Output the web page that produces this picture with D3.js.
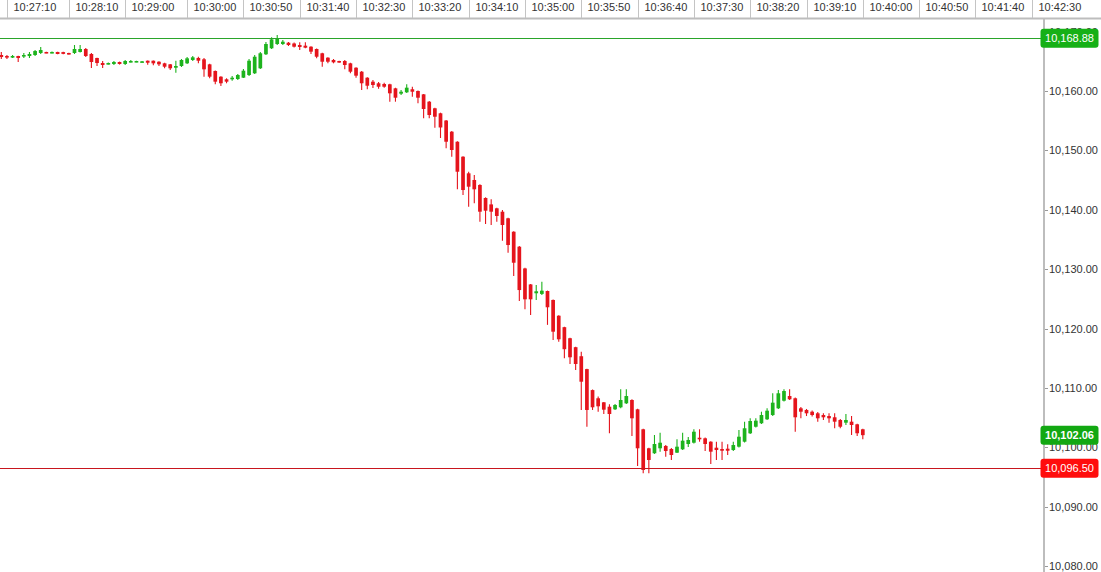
<!DOCTYPE html>
<html><head><meta charset="utf-8">
<script src="https://cdn.jsdelivr.net/npm/d3@7"></script>
<style>
body{margin:0;background:#fff;overflow:hidden}
text{font-family:"Liberation Sans",Arial,sans-serif}
</style>
</head><body><svg id="c" width="1101" height="572"></svg>
<script>
const opens = [10166.06,10165.89,10165.72,10165.89,10165.89,10165.89,10166.06,10166.40,10166.57,10166.40,10166.57,10166.55,10166.40,10166.40,10166.57,10167.07,10166.23,10165.56,10164.71,10164.55,10164.55,10164.88,10164.55,10164.88,10164.88,10164.88,10165.10,10165.10,10164.93,10164.66,10164.49,10163.92,10164.21,10164.66,10165.22,10165.56,10165.34,10164.49,10163.37,10162.41,10161.97,10161.97,10162.02,10162.24,10162.69,10162.98,10163.82,10166.18,10167.19,10167.91,10167.91,10168.13,10168.00,10167.74,10167.63,10167.46,10167.07,10166.35,10165.61,10165.22,10165.05,10165.05,10164.66,10163.92,10163.25,10162.24,10161.57,10161.30,10161.18,10161.13,10160.45,10159.55,10159.78,10160.29,10160.00,10159.44,10158.20,10157.09,10156.25,10155.03,10153.15,10151.46,10148.94,10146.14,10145.02,10144.18,10141.99,10140.91,10140.25,10139.68,10138.57,10136.31,10133.79,10130.13,10127.44,10125.95,10125.84,10126.33,10124.82,10122.17,10120.24,10118.38,10116.87,10115.35,10113.18,10109.65,10108.27,10107.59,10106.85,10106.41,10106.75,10107.42,10107.98,10106.41,10103.05,10099.85,10099.01,10099.85,10100.24,10099.73,10099.11,10099.68,10100.57,10100.79,10101.63,10101.53,10100.96,10099.95,10099.73,10099.78,10099.56,10100.12,10100.96,10102.37,10103.48,10104.06,10104.73,10105.45,10106.58,10107.86,10108.65,10108.27,10106.58,10106.30,10106.01,10105.74,10105.45,10105.28,10105.07,10104.61,10104.16,10104.33,10103.89,10103.05];
const highs = [10166.57,10166.06,10166.06,10165.95,10166.40,10166.57,10166.90,10167.41,10166.60,10166.65,10166.60,10166.60,10166.45,10167.74,10167.74,10167.24,10166.40,10165.60,10165.05,10164.80,10165.05,10164.95,10165.22,10165.22,10165.10,10165.05,10165.15,10165.15,10165.00,10164.75,10164.55,10165.10,10165.39,10165.72,10165.89,10165.77,10165.56,10164.60,10163.45,10162.50,10162.14,10162.53,10162.86,10163.70,10165.39,10166.06,10166.57,10168.25,10169.04,10169.43,10168.59,10168.25,10168.17,10168.20,10168.20,10167.55,10167.15,10166.45,10165.70,10165.39,10165.10,10165.22,10164.75,10164.00,10163.35,10162.30,10161.85,10161.52,10161.40,10161.20,10160.55,10160.17,10161.13,10160.72,10160.10,10159.50,10158.30,10157.20,10156.35,10155.10,10153.25,10151.55,10149.00,10146.41,10145.86,10144.30,10142.10,10141.77,10140.35,10139.97,10138.65,10136.40,10133.90,10130.25,10127.51,10127.34,10127.90,10126.40,10124.90,10122.25,10120.30,10118.45,10116.95,10116.11,10113.25,10109.75,10108.55,10107.65,10107.26,10107.31,10109.78,10109.78,10108.10,10106.50,10103.15,10099.95,10102.09,10102.47,10100.40,10099.90,10101.36,10102.47,10101.75,10103.05,10103.05,10101.65,10101.05,10100.96,10100.96,10100.52,10100.96,10102.93,10104.33,10104.90,10104.90,10106.01,10106.58,10109.11,10109.66,10109.78,10109.78,10108.40,10106.80,10106.47,10106.22,10105.96,10105.74,10105.74,10105.74,10104.78,10105.62,10105.28,10104.00,10103.15];
const lows = [10165.39,10165.39,10165.56,10164.88,10165.56,10165.56,10165.89,10166.23,10166.35,10166.35,10166.20,10166.20,10166.15,10166.23,10166.50,10165.72,10163.87,10164.21,10163.87,10164.45,10164.38,10164.45,10164.38,10164.80,10164.85,10164.85,10164.43,10164.33,10164.21,10163.82,10163.54,10163.08,10164.04,10164.55,10165.05,10164.66,10162.41,10162.14,10161.13,10160.84,10161.30,10161.73,10161.85,10162.19,10162.53,10162.86,10163.70,10166.06,10167.07,10167.74,10167.74,10167.58,10167.32,10166.90,10167.19,10166.23,10165.50,10164.09,10164.66,10164.66,10164.75,10163.65,10162.98,10162.24,10160.17,10160.29,10160.51,10160.39,10160.56,10158.20,10158.20,10159.33,10159.66,10159.04,10157.93,10155.40,10155.40,10153.82,10152.09,10150.35,10148.94,10143.45,10142.49,10140.52,10141.09,10138.00,10137.61,10137.44,10138.00,10134.80,10132.78,10128.86,10124.65,10123.25,10122.29,10124.82,10125.66,10120.63,10118.07,10117.79,10115.01,10114.04,10113.05,10106.30,10103.48,10106.30,10106.01,10105.62,10102.38,10106.30,10106.60,10107.30,10101.92,10096.87,10095.64,10095.64,10098.90,10099.28,10098.44,10097.88,10099.05,10099.56,10100.07,10100.66,10100.96,10099.39,10097.21,10097.88,10097.88,10098.72,10099.39,10099.98,10100.83,10102.26,10103.35,10103.94,10104.61,10105.28,10106.47,10107.73,10107.98,10102.64,10104.90,10105.28,10105.20,10104.33,10104.61,10104.16,10103.22,10103.22,10103.77,10102.09,10101.92,10101.36];
const closes = [10165.72,10165.72,10165.89,10165.56,10166.06,10166.23,10166.73,10166.90,10166.40,10166.57,10166.23,10166.25,10166.23,10167.07,10167.07,10165.89,10164.88,10164.71,10164.38,10164.71,10164.88,10164.55,10165.05,10165.05,10165.05,10165.00,10164.76,10164.66,10164.49,10164.09,10163.82,10164.21,10165.22,10165.50,10165.67,10165.10,10163.65,10162.41,10161.57,10161.30,10161.57,10162.24,10162.69,10163.42,10165.10,10165.77,10166.35,10167.91,10168.70,10168.87,10168.30,10167.74,10167.46,10167.41,10167.29,10166.62,10165.77,10164.93,10164.93,10164.83,10164.83,10164.38,10163.25,10162.58,10161.30,10160.89,10161.01,10160.72,10160.72,10159.61,10158.87,10159.88,10160.56,10159.88,10158.87,10156.97,10155.96,10155.67,10153.86,10151.46,10150.07,10146.41,10143.33,10143.89,10143.45,10139.68,10139.85,10139.68,10138.96,10137.44,10134.07,10131.09,10126.49,10124.93,10124.93,10126.28,10126.38,10123.59,10119.48,10118.20,10116.53,10115.17,10114.04,10111.06,10106.30,10106.75,10106.92,10106.35,10105.62,10107.14,10107.98,10108.65,10104.90,10099.85,10096.20,10097.88,10100.57,10100.79,10099.39,10098.72,10100.12,10101.13,10101.25,10102.64,10101.36,10100.57,10099.28,10099.56,10099.44,10099.44,10100.40,10101.80,10103.22,10104.44,10104.50,10105.45,10106.18,10107.53,10109.11,10109.49,10108.10,10105.07,10106.01,10105.74,10105.45,10104.90,10105.07,10104.90,10104.33,10103.48,10104.61,10103.77,10102.38,10102.06];

const timeLabels = ["10:27:10","10:28:10","10:29:00","10:30:00","10:30:50","10:31:40","10:32:30","10:33:20","10:34:10","10:35:00","10:35:50","10:36:40","10:37:30","10:38:20","10:39:10","10:40:00","10:40:50","10:41:40","10:42:30"];
const timeLabelBars = [1,12,22,33,43,53,63,73,83,93,103,113,123,133,143,153,163,173,183];
const priceTicks = [10080,10090,10100,10110,10120,10130,10140,10150,10160,10170];
const sessionHigh = 10168.88;
const sessionLow = 10096.50;
const lastPrice = 10102.06;

const W = 1101, H = 572, axisX = 1043, headerH = 19;
const svg = d3.select("#c");
const x = d3.scaleLinear().domain([0, 185]).range([1.3, axisX]);
const y = d3.scaleLinear().domain([10080, 10160]).range([566.2, 91]);
const fmt = d3.format(",.2f");
const UP = "#1db31d", DOWN = "#e5141c";

const candles = opens.map((o, i) => ({i, o, h: highs[i], l: lows[i], c: closes[i]}));

// plot area clip
svg.append("clipPath").attr("id","plot").append("rect")
  .attr("x",0).attr("y",headerH+1).attr("width",axisX).attr("height",H-headerH);

const g = svg.append("g").attr("clip-path","url(#plot)");
const cg = g.selectAll("g.cd").data(candles).join("g").attr("class","cd");
cg.append("line")
  .attr("x1", d => x(d.i)).attr("x2", d => x(d.i))
  .attr("y1", d => y(d.h)).attr("y2", d => y(d.l))
  .attr("stroke", d => d.c >= d.o ? UP : DOWN).attr("stroke-width", 1.1);
const bw = 3.7;
cg.append("rect")
  .attr("x", d => x(d.i) - bw/2)
  .attr("y", d => Math.min(y(d.o), y(d.c)))
  .attr("width", bw)
  .attr("height", d => Math.max(1.6, Math.abs(y(d.o) - y(d.c))))
  .attr("fill", d => d.c >= d.o ? UP : DOWN);

// level lines
g.append("line").attr("x1",0).attr("x2",axisX).attr("y1",Math.round(y(sessionHigh))+0.5).attr("y2",Math.round(y(sessionHigh))+0.5)
  .attr("stroke","#2aa52a").attr("stroke-width",1);
g.append("line").attr("x1",0).attr("x2",axisX).attr("y1",Math.round(y(sessionLow))+0.5).attr("y2",Math.round(y(sessionLow))+0.5)
  .attr("stroke","#c8161e").attr("stroke-width",1);

// header
const hdr = svg.append("g");
hdr.append("line").attr("x1",0).attr("x2",W).attr("y1",headerH-0.5).attr("y2",headerH-0.5)
  .attr("stroke","#bdbdbd").attr("stroke-width",2);
timeLabels.forEach((t, k) => {
  const sx = Math.round(x(timeLabelBars[k])) + 0.5;
  hdr.append("line").attr("x1",sx).attr("x2",sx).attr("y1",0).attr("y2",headerH-1)
    .attr("stroke","#c4c4c4").attr("stroke-width",1);
  hdr.append("text").attr("x",sx+6).attr("y",11).attr("font-size",11).attr("fill","#333").text(t);
});

// right axis
svg.append("line").attr("x1",axisX+1).attr("x2",axisX+1).attr("y1",headerH).attr("y2",H)
  .attr("stroke","#bdbdbd").attr("stroke-width",2);
const yAxis = svg.append("g");
priceTicks.forEach(p => {
  const ty = y(p);
  if (ty < headerH + 4) {}
  yAxis.append("line").attr("x1",axisX+2).attr("x2",axisX+5).attr("y1",Math.round(ty)+0.5).attr("y2",Math.round(ty)+0.5)
    .attr("stroke","#999").attr("stroke-width",1);
  yAxis.append("text").attr("x",axisX+6).attr("y",ty).attr("dy","0.36em").attr("font-size",11).attr("fill","#333").text(fmt(p));
});

// price label boxes
function priceBox(p, fill, bold) {
  const cy = y(p);
  const bgp = svg.append("g");
  bgp.append("rect").attr("x",1040.5).attr("y",cy-9.5).attr("width",58).attr("height",19).attr("rx",3)
    .attr("fill",fill);
  bgp.append("text").attr("x",1069.5).attr("y",cy).attr("dy","0.36em").attr("text-anchor","middle")
    .attr("font-size",11).attr("font-weight",bold?"bold":"normal").attr("fill","#fff").text(fmt(p));
}
priceBox(sessionHigh, "#16b016", false);
priceBox(lastPrice, "#12a812", true);
priceBox(sessionLow, "#ff0d0d", false);
</script>
</body></html>
